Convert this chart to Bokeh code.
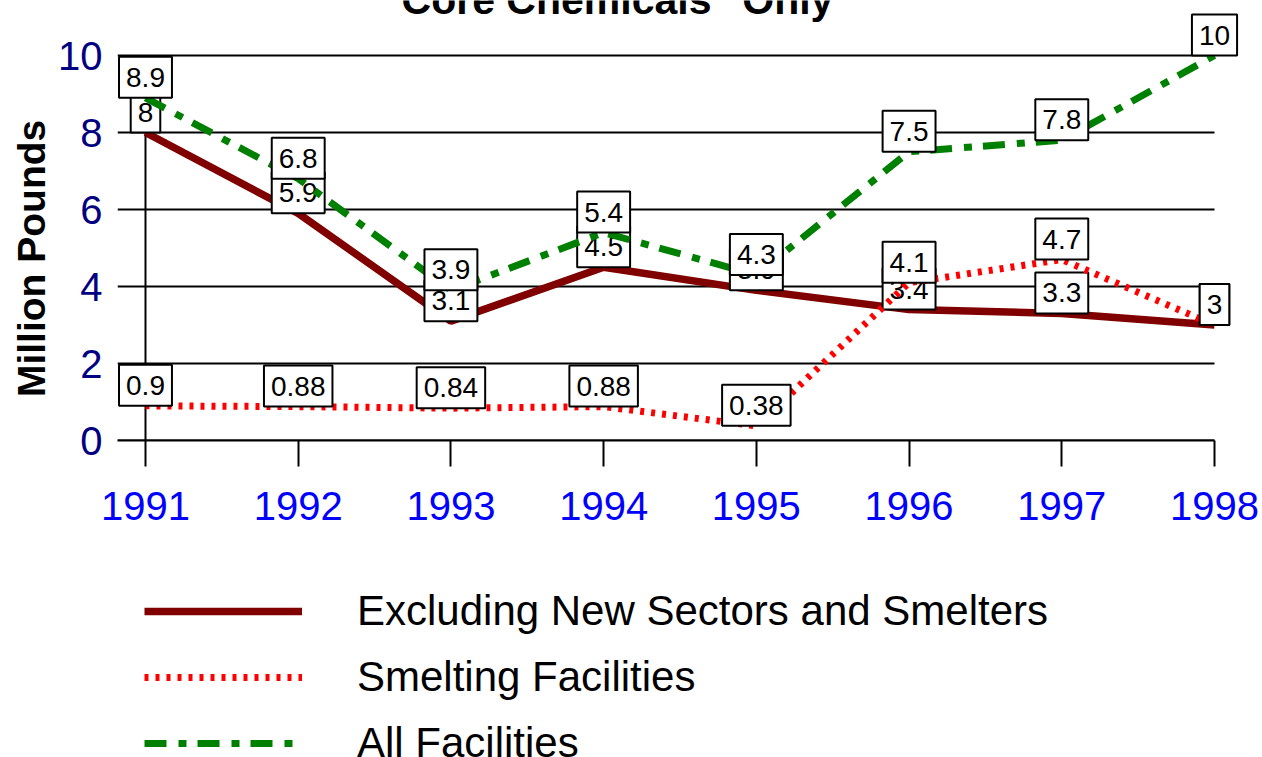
from bokeh.plotting import figure
from bokeh.models import Label, Legend, LegendItem, FixedTicker, Range1d
from bokeh.layouts import column
from bokeh.core.properties import value
from bokeh.embed import file_html
from bokeh.resources import INLINE

# ---- data ----
years = [1991, 1992, 1993, 1994, 1995, 1996, 1997, 1998]
year_labels = ["1991", "1992", "1993", "1994", "1995", "1996", "1997", "1998"]
excluding = [8.0, 5.9, 3.1, 4.5, 3.9, 3.4, 3.3, 3.0]
smelting = [0.9, 0.88, 0.84, 0.88, 0.38, 4.1, 4.7, 3.0]
all_facilities = [8.9, 6.8, 3.9, 5.4, 4.3, 7.5, 7.8, 10.0]
y_ticks = [0, 2, 4, 6, 8, 10]
series_names = ["Excluding New Sectors and Smelters", "Smelting Facilities", "All Facilities"]
title_text = '"Core Chemicals" Only'
y_title = "Million Pounds"

FONT = "Liberation Sans"

# frame: x from page 117 to 1262, y from page 0 to 440
X0, X1 = 1990.8167, 1998.3143
Y0, Y1 = 0.0, 11.4286

p = figure(width=1262, height=540, output_backend="svg", toolbar_location=None,
           x_range=Range1d(X0, X1), y_range=Range1d(Y0, Y1),
           min_border_left=117, min_border_right=0, min_border_top=0,
           min_border_bottom=100)
p.outline_line_color = None
p.background_fill_color = "white"
p.border_fill_color = "white"
p.xgrid.visible = False
p.ygrid.visible = False

# x axis
p.xaxis.ticker = FixedTicker(ticks=years)
p.xaxis.bounds = (X0, years[-1])
p.xaxis.major_label_overrides = {y: l for y, l in zip(years, year_labels)}
p.xaxis.major_label_text_color = "#0000FF"
p.xaxis.major_label_text_font = FONT
p.xaxis.major_label_text_font_size = "40px"
p.xaxis.major_label_standoff = 25
p.xaxis.major_tick_out = 26
p.xaxis.major_tick_in = 0
p.xaxis.minor_tick_line_color = None
p.xaxis.minor_tick_out = 0
p.xaxis.major_tick_line_width = 2
p.xaxis.axis_line_width = 2
p.xaxis.major_tick_line_color = "black"
p.xaxis.axis_line_color = "black"

# y axis (labels + title only; tick stubs are part of the grid segments)
p.yaxis.ticker = FixedTicker(ticks=y_ticks)
p.yaxis.major_label_text_color = "#000080"
p.yaxis.major_label_text_font = FONT
p.yaxis.major_label_text_font_size = "40px"
p.yaxis.major_label_standoff = 15
p.yaxis.major_tick_out = 0
p.yaxis.major_tick_in = 0
p.yaxis.minor_tick_out = 0
p.yaxis.minor_tick_in = 0
p.yaxis.major_tick_line_color = None
p.yaxis.minor_tick_line_color = None
p.yaxis.axis_line_color = None
p.yaxis.axis_label = y_title + "\u00a0" * 7
p.yaxis.axis_label_text_font = FONT
p.yaxis.axis_label_text_font_size = "39px"
p.yaxis.axis_label_text_font_style = "bold"
p.yaxis.axis_label_text_color = "black"
p.yaxis.axis_label_standoff = 2

# horizontal grid lines (with left stubs) and the vertical axis line at 1991
n = len(y_ticks)
p.segment(x0=[X0] * n, y0=y_ticks, x1=[years[-1]] * n, y1=y_ticks,
          line_color="black", line_width=2)
p.segment(x0=[years[0]], y0=[y_ticks[0]], x1=[years[0]], y1=[y_ticks[-1]],
          line_color="black", line_width=2)

styles = [
    dict(line_color="#800000", line_width=7.5),
    dict(line_color="#FF0000", line_width=7, line_dash="4 7"),
    dict(line_color="#008000", line_width=7, line_dash="22 12 8 11"),
]
series = [excluding, smelting, all_facilities]

for vals, st in zip(series, styles):
    p.line(years, vals, **st)
    p.text(x=years, y=vals, text=[f"{v:g}" for v in vals],
           text_align="center", text_baseline="bottom",
           text_font=value(FONT), text_font_size=value("28px"), text_color="black",
           background_fill_color="white", border_line_color="black",
           border_line_width=2, padding=(7, 11))

title = Label(x=264.6, y=441, x_units="screen", y_units="screen", text=title_text,
              text_font=FONT, text_font_size="41px", text_font_style="bold",
              text_color="black", text_align="left", text_baseline="alphabetic")
p.add_layout(title)

# ---- legend figure (same series, outside its visible ranges) ----
q = figure(width=1262, height=217, output_backend="svg", toolbar_location=None,
           x_axis_type=None, y_axis_type=None,
           x_range=Range1d(0, 1), y_range=Range1d(0, 1),
           min_border_left=117, min_border_right=0, min_border_top=20,
           min_border_bottom=0)
q.outline_line_color = None
q.background_fill_color = "white"
q.border_fill_color = "white"
leg_renderers = [q.line(years, vals, **st) for vals, st in zip(series, styles)]
legend = Legend(items=[LegendItem(label=nm, renderers=[r]) for nm, r in zip(series_names, leg_renderers)],
                location="top_left", orientation="vertical",
                label_text_font=FONT, label_text_font_size="42px", label_text_color="black",
                glyph_width=158, glyph_height=48, label_height=48, label_standoff=55,
                spacing=18, padding=0, margin=27,
                border_line_color=None, background_fill_alpha=0)
q.add_layout(legend)

layout = column(p, q, spacing=0)
open("out.html", "w").write(file_html(layout, INLINE))
